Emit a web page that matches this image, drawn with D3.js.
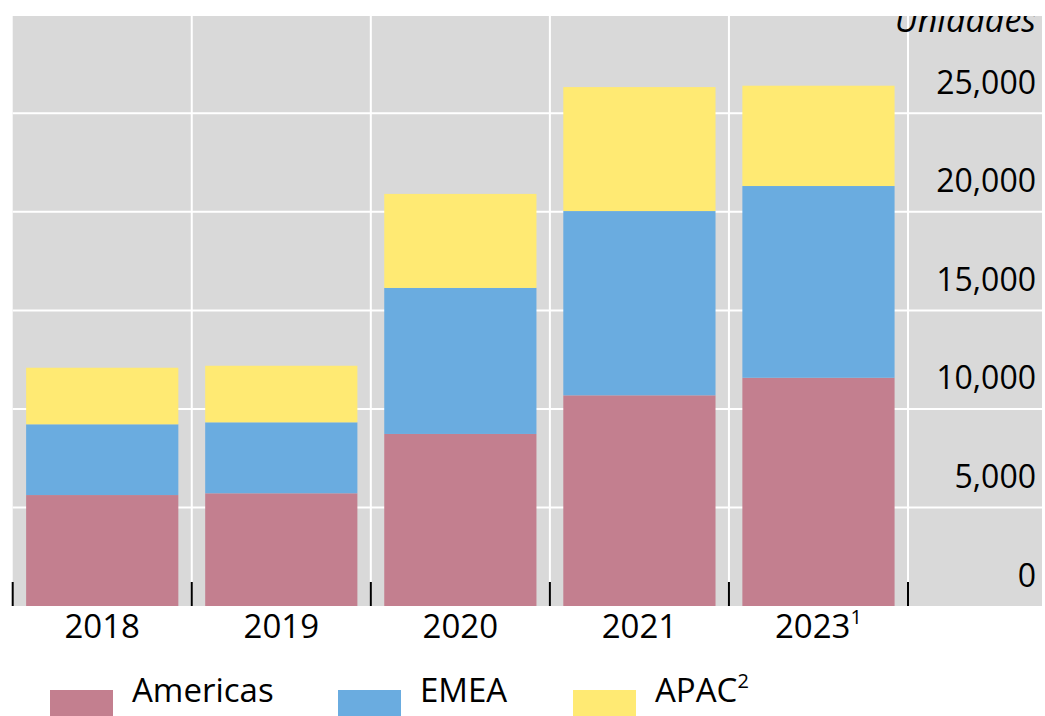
<!DOCTYPE html>
<html>
<head>
<meta charset="utf-8">
<script src="https://cdn.jsdelivr.net/npm/d3@7"></script>
<style>
  html, body { margin: 0; padding: 0; background: #fff; }
  svg { display: block; font-family: "Open Sans", "Noto Sans", sans-serif; }
</style>
</head>
<body>
<div id="chart"></div>
<script>
// data (units)
const years = ['2018', '2019', '2020', '2021', '2023'];
const yearNotes = ['', '', '', '', '1'];
const americas = [5630, 5720, 8730, 10690, 11580];
const emea = [3590, 3600, 7410, 9350, 9730];
const apac = [2870, 2870, 4770, 6290, 5090];
const seriesNames = ['Americas', 'EMEA', 'APAC'];
const seriesNotes = ['', '', '2'];
const seriesColors = ['#c37f8f', '#6aace0', '#ffea73'];
const yTicks = [0, 5000, 10000, 15000, 20000, 25000];
const unitLabel = 'Unidades';

const width = 1045, height = 716;
const plot = { left: 12.7, right: 1042, top: 16, bottom: 606 };
const barsRight = 908;

const svg = d3.select('#chart').append('svg')
  .attr('width', width).attr('height', height)
  .attr('viewBox', `0 0 ${width} ${height}`);

const x = d3.scaleBand().domain(years)
  .range([plot.left, barsRight])
  .paddingInner(0.15).paddingOuter(0.075);
const y = d3.scaleLinear().domain([0, 25000]).range([plot.bottom, 113.3]);

const table = years.map((yr, i) => ({ year: yr, Americas: americas[i], EMEA: emea[i], APAC: apac[i] }));
const stacked = d3.stack().keys(seriesNames)(table);

svg.append('defs').append('clipPath').attr('id', 'plotClip')
  .append('rect').attr('x', plot.left).attr('y', plot.top)
  .attr('width', plot.right - plot.left).attr('height', plot.bottom - plot.top);

// background
svg.append('rect')
  .attr('x', plot.left).attr('y', plot.top)
  .attr('width', plot.right - plot.left).attr('height', plot.bottom - plot.top)
  .attr('fill', '#d9d9d9');

// gridlines
const half = x.step() * x.paddingInner() / 2;
const bounds = years.map(d => x(d) - half).concat([x(years[years.length - 1]) + x.bandwidth() + half]);
svg.append('g').selectAll('line.h').data(yTicks.filter(d => d > 0)).enter().append('line')
  .attr('x1', plot.left).attr('x2', plot.right)
  .attr('y1', d => y(d)).attr('y2', d => y(d))
  .attr('stroke', '#fff').attr('stroke-width', 2);
svg.append('g').selectAll('line.v').data(bounds.slice(1)).enter().append('line')
  .attr('x1', d => d).attr('x2', d => d)
  .attr('y1', plot.top).attr('y2', plot.bottom)
  .attr('stroke', '#fff').attr('stroke-width', 2);

// bars
svg.append('g').selectAll('g').data(stacked).enter().append('g')
  .attr('fill', (d, i) => seriesColors[i])
  .selectAll('rect').data(d => d).enter().append('rect')
  .attr('x', d => x(d.data.year))
  .attr('width', x.bandwidth())
  .attr('y', d => y(d[1]))
  .attr('height', d => y(d[0]) - y(d[1]));

// ticks at category boundaries
svg.append('g').selectAll('line').data(bounds).enter().append('line')
  .attr('x1', d => d).attr('x2', d => d)
  .attr('y1', plot.bottom - 24).attr('y2', plot.bottom)
  .attr('stroke', '#000').attr('stroke-width', 2);

// y axis labels (right side, above their gridline)
const yAxis = svg.append('g')
  .call(d3.axisRight(y).tickValues(yTicks).tickSize(0).tickFormat(d3.format(',')));
yAxis.select('.domain').remove();
yAxis.selectAll('text')
  .attr('x', 1036).attr('dy', -20)
  .attr('text-anchor', 'end')
  .attr('font-family', '"Open Sans", "Noto Sans", sans-serif')
  .attr('font-size', 32).attr('fill', '#000');

// unit label, clipped by the plot area as in the source figure
svg.append('text')
  .attr('clip-path', 'url(#plotClip)')
  .attr('x', 1036).attr('y', 32)
  .attr('text-anchor', 'end')
  .attr('font-size', 34).attr('font-style', 'italic')
  .text(unitLabel);

// x axis labels
const xl = svg.append('g').selectAll('text').data(years).enter().append('text')
  .attr('x', d => x(d) + x.bandwidth() / 2)
  .attr('y', 638)
  .attr('text-anchor', 'middle')
  .attr('font-size', 33);
xl.append('tspan').text(d => d);
xl.append('tspan').attr('font-size', 20).attr('dy', -14)
  .text((d, i) => yearNotes[i]);

// legend
const legendX = [50, 338, 573];
const leg = svg.append('g').selectAll('g').data(seriesNames).enter().append('g')
  .attr('transform', (d, i) => `translate(${legendX[i]},0)`);
leg.append('rect').attr('x', 0).attr('y', 690).attr('width', 63).attr('height', 30)
  .attr('fill', (d, i) => seriesColors[i]);
const lt = leg.append('text').attr('x', 82).attr('y', 702).attr('font-size', 33);
lt.append('tspan').text(d => d);
lt.append('tspan').attr('font-size', 20).attr('dy', -14).text((d, i) => seriesNotes[i]);
</script>
</body>
</html>
